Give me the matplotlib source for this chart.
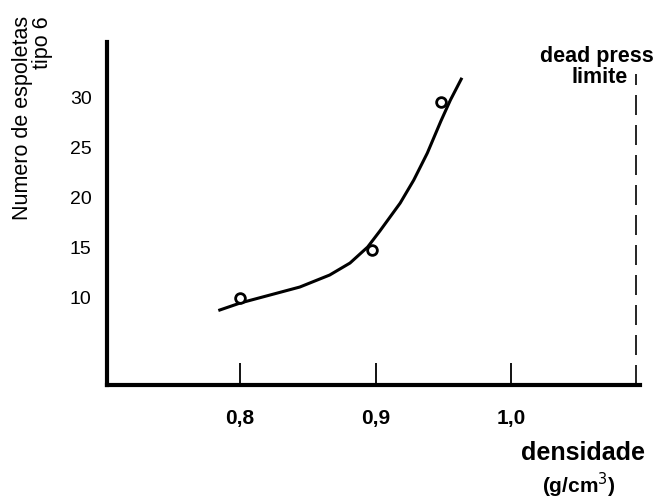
import matplotlib.pyplot as plt

plt.rcParams['font.family'] = ['Liberation Sans', 'DejaVu Sans']

# measured points
dens = [0.80, 0.897, 0.948]
espoletas = [9.9, 14.7, 29.5]

# hand-drawn fitted curve
curve_x = [0.785, 0.800, 0.822, 0.844, 0.866, 0.881, 0.894, 0.903,
           0.918, 0.928, 0.938, 0.948, 0.955, 0.963]
curve_y = [8.7, 9.4, 10.2, 11.0, 12.2, 13.4, 15.0, 16.6,
           19.4, 21.7, 24.4, 27.6, 29.7, 31.8]

xticks = [0.8, 0.9, 1.0]
xtick_labels = ['0,8', '0,9', '1,0']
yticks = [10, 15, 20, 25, 30]
dead_press = 1.092

fig = plt.figure(figsize=(6.56, 4.99), dpi=100)
ax = fig.add_axes([0.163, 0.2285, 0.813, 0.687])

ax.plot(curve_x, curve_y, color='black', lw=2.2, solid_joinstyle='round')
ax.plot(dens, espoletas, 'o', mfc='white', mec='black', mew=2, ms=7)
ax.plot([dead_press, dead_press], [1.2, 32.3], color='black', lw=1.2,
        dashes=(12, 6))

ax.set_xlim(0.7018, 1.095)
ax.set_ylim(1.2, 35.5)

ax.spines['top'].set_visible(False)
ax.spines['right'].set_visible(False)
ax.spines['left'].set_linewidth(3)
ax.spines['bottom'].set_linewidth(3)

ax.set_xticks(xticks)
ax.set_xticklabels(xtick_labels, fontsize=15, fontweight='bold')
ax.tick_params(axis='x', direction='in', length=16, width=1.3, pad=17)
ax.set_yticks(yticks)
ax.set_yticklabels([str(v) for v in yticks], fontsize=14)
ax.tick_params(axis='y', length=0, pad=11)

fig.text(0.05, 0.763, 'Numero de espoletas\ntipo 6', rotation=90,
         ha='center', va='center', multialignment='right', fontsize=15.5,
         linespacing=0.95)
fig.text(0.997, 0.886, 'dead press', ha='right', va='center',
         fontsize=15.5, fontweight='bold')
fig.text(0.957, 0.844, 'limite', ha='right', va='center',
         fontsize=15.5, fontweight='bold')
fig.text(0.889, 0.092, 'densidade', ha='center', va='center',
         fontsize=18, fontweight='bold')
fig.text(0.882, 0.028, '(g/cm$^3$)', ha='center', va='center',
         fontsize=15, fontweight='bold')

fig.savefig('out.png', dpi=100)
